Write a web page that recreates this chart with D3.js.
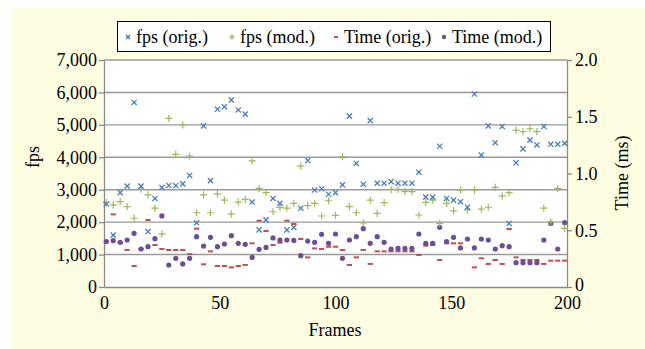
<!DOCTYPE html>
<html>
<head>
<meta charset="utf-8">
<script src="https://cdn.jsdelivr.net/npm/d3@7"></script>
<style>
  html, body { margin: 0; padding: 0; background: #ffffff; }
  svg { display: block; }
  svg text { font-family: "Liberation Serif", "Times New Roman", Times, serif; }
</style>
</head>
<body>
<svg id="chart"></svg>
<script>
// frames sampled every 3 frames: 1, 4, 7, ... 199
const frames = d3.range(1, 200, 3);
const fpsOrig = [2560, 1600, 2910, 3110, 5690, 3110, 1710, 2730, 3070, 3130, 3130, 3180, 3440, 1980, 4970, 3280, 5480,
  5560, 5770, 5460, 5330, 2620, 1760, 2070, 2730, 2580, 1760, 1840, 2430, 3900, 2990, 3030, 2860, 2910, 3150, 5270,
  3810, 3170, 5130, 3200, 3200, 3250, 3200, 3200, 3200, 3540, 2770, 2770, 4340, 2730, 2680, 2630, 2460, 5950, 4070,
  4970, 4450, 4950, 1960, 3830, 4260, 4530, 4380, 4950, 4400, 4400, 4430];
const fpsMod = [2600, 2530, 2630, 2480, 2120, 3020, 2840, 2430, 1640, 5200, 4090, 5000, 4040, 2290, 2840, 2290, 2870,
  2680, 2250, 2620, 2700, 3890, 3040, 2910, 2320, 2450, 2430, 2580, 3730, 2510, 2580, 2190, 2660, 2210, 4020, 2480,
  2290, 1980, 2680, 2270, 2600, 3010, 3010, 2940, 2940, 2220, 2610, 2680, 1960, 2580, 2350, 2990, 2380, 2990, 2400,
  2460, 3070, 2810, 2910, 4840, 4790, 4880, 4790, 2430, 2000, 3040, 1810];
const timeOrig = [0.40, 0.64, 0.39, 0.326, 0.185, 0.335, 0.59, 0.37, 0.335, 0.326, 0.326, 0.326, 0.29, 0.514, 0.20,
  0.314, 0.185, 0.185, 0.173, 0.185, 0.194, 0.385, 0.584, 0.493, 0.37, 0.39, 0.584, 0.555, 0.423, 0.261, 0.34, 0.335,
  0.355, 0.355, 0.326, 0.194, 0.261, 0.326, 0.203, 0.314, 0.314, 0.314, 0.314, 0.314, 0.314, 0.282, 0.364, 0.37,
  0.238, 0.385, 0.385, 0.385, 0.42, 0.173, 0.253, 0.203, 0.238, 0.203, 0.511, 0.261, 0.238, 0.238, 0.238, 0.203,
  0.232, 0.232, 0.232];
const timeMod = [0.40, 0.408, 0.394, 0.414, 0.473, 0.335, 0.355, 0.426, 0.626, 0.194, 0.253, 0.203, 0.253, 0.443,
  0.361, 0.438, 0.355, 0.379, 0.452, 0.385, 0.376, 0.261, 0.332, 0.349, 0.432, 0.414, 0.414, 0.41, 0.276, 0.405,
  0.394, 0.464, 0.385, 0.467, 0.253, 0.414, 0.443, 0.514, 0.385, 0.443, 0.394, 0.335, 0.34, 0.34, 0.34, 0.467, 0.385,
  0.385, 0.526, 0.40, 0.438, 0.344, 0.423, 0.344, 0.423, 0.414, 0.335, 0.364, 0.355, 0.214, 0.214, 0.214, 0.214,
  0.414, 0.56, 0.335, 0.567];
const fpsTicks = [0, 1000, 2000, 3000, 4000, 5000, 6000, 7000];
const timeTicks = [0, 0.5, 1.0, 1.5, 2.0];
const frameTicks = [0, 50, 100, 150, 200];
const legendNames = ["fps (orig.)", "fps (mod.)", "Time (orig.)", "Time (mod.)"];

const width = 645, height = 349;
const marge = { top: 60, bottom: 62, left: 104, right: 78 };
const colors = { blue: "#4a7ebb", green: "#9bbb59", red: "#c0504d", purple: "#6b4f96" };
const fontSize = 18;

const svg = d3.select("#chart").attr("width", width).attr("height", height);
// pale yellow chart area
svg.append("rect").attr("x", 12).attr("y", 8).attr("width", width - 12).attr("height", height - 8).attr("fill", "#fffde1");

const plotW = width - marge.left - marge.right;
const plotH = height - marge.top - marge.bottom;

const xScale = d3.scaleLinear().domain([0, 200]).range([0, plotW]);
const yScale = d3.scaleLinear().domain([0, 7000]).range([plotH, 0]);
const y2Scale = d3.scaleLinear().domain([0, 2]).range([plotH, 0]);

const g = svg.append("g").attr("transform", `translate(${marge.left},${marge.top})`);
g.append("rect").attr("width", plotW).attr("height", plotH).attr("fill", "#ffffff");

// gridlines
g.append("g").selectAll("line").data(fpsTicks.slice(1)).enter().append("line")
  .attr("x1", 0).attr("x2", plotW)
  .attr("y1", d => yScale(d)).attr("y2", d => yScale(d))
  .attr("stroke", "#9a9a9a").attr("stroke-width", 1.4);

// axes
const styleAxis = (sel) => {
  sel.attr("font-family", null).attr("font-size", null);
  sel.selectAll(".domain").attr("stroke", "#8a8a8a").attr("stroke-width", 1.3);
  sel.selectAll(".tick line").attr("stroke", "#8a8a8a").attr("stroke-width", 1.3);
  sel.selectAll("text").attr("font-size", fontSize).attr("fill", "#000");
};
const gay = g.append("g")
  .call(d3.axisLeft(yScale).tickValues(fpsTicks).tickSize(5).tickSizeOuter(0).tickPadding(2).tickFormat(d3.format(",")));
styleAxis(gay);
const gay2 = g.append("g").attr("transform", `translate(${plotW},0)`)
  .call(d3.axisRight(y2Scale).tickValues(timeTicks).tickSize(5).tickSizeOuter(0).tickPadding(3).tickFormat(d3.format(".1f")));
styleAxis(gay2);
gay2.selectAll(".tick text").filter(d => d === 0).text("0").attr("dy", "0.2em");
const gax = g.append("g").attr("transform", `translate(0,${plotH})`)
  .call(d3.axisBottom(xScale).tickValues(frameTicks).tickSize(0).tickSizeOuter(0).tickPadding(9));
styleAxis(gax);

// axis titles
svg.append("text").attr("transform", `translate(39,157) rotate(-90)`).attr("text-anchor", "middle")
  .attr("font-size", fontSize).text("fps");
svg.append("text").attr("transform", `translate(628,173) rotate(-90)`).attr("text-anchor", "middle")
  .attr("font-size", fontSize).text("Time (ms)");
svg.append("text").attr("x", 335).attr("y", 336).attr("text-anchor", "middle")
  .attr("font-size", fontSize).text("Frames");

// marker drawers
function drawCross(sel, s, c, w) {
  sel.append("path").attr("d", `M${-s},${-s}L${s},${s}M${-s},${s}L${s},${-s}`).attr("stroke", c).attr("stroke-width", w);
}
function drawPlus(sel, s, c, w) {
  sel.append("path").attr("d", `M${-s},0L${s},0M0,${-s}L0,${s}`).attr("stroke", c).attr("stroke-width", w);
}
function drawDash(sel, s, c) {
  sel.append("rect").attr("x", -s).attr("y", -1).attr("width", 2 * s).attr("height", 2).attr("fill", c);
}
function drawDot(sel, r, c) {
  sel.append("circle").attr("r", r).attr("fill", c);
}

const idx = d3.range(frames.length);
const series = [
  { vals: timeOrig, scale: y2Scale, draw: s => drawDash(s, 2.6, colors.red) },
  { vals: timeMod, scale: y2Scale, draw: s => drawDot(s, 2.6, colors.purple) },
  { vals: fpsMod, scale: yScale, draw: s => drawPlus(s, 3.6, colors.green, 1.2) },
  { vals: fpsOrig, scale: yScale, draw: s => drawCross(s, 2.6, colors.blue, 1.3) }
];
series.forEach(sr => {
  const gs = g.append("g").selectAll("g").data(idx).enter().append("g")
    .attr("transform", i => `translate(${xScale(frames[i])},${sr.scale(sr.vals[i])})`);
  sr.draw(gs);
});

// legend
const lg = svg.append("g");
lg.append("rect").attr("x", 117.5).attr("y", 21.5).attr("width", 433).attr("height", 30)
  .attr("fill", "#ffffff").attr("stroke", "#000").attr("stroke-width", 1);
const legendX = [128, 232, 336, 444];
const legendDraw = [
  s => drawCross(s, 2, colors.blue, 1.6),
  s => drawPlus(s, 2.5, colors.green, 1.6),
  s => drawDash(s, 2, colors.red),
  s => drawDot(s, 2.2, colors.purple)
];
legendNames.forEach((name, i) => {
  const it = lg.append("g").attr("transform", `translate(${legendX[i]},37)`);
  legendDraw[i](it);
  it.append("text").attr("x", 8).attr("y", 6).attr("font-size", fontSize).text(name);
});
</script>
</body>
</html>
